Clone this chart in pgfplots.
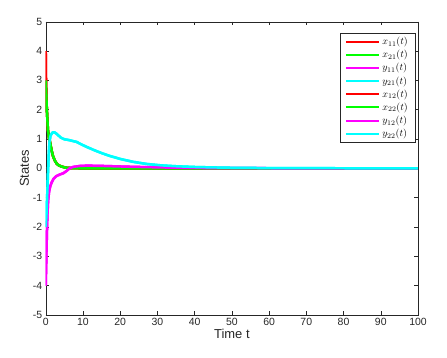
\documentclass[border=0pt]{standalone}
\usepackage{pgfplots}
\pgfplotsset{compat=1.18}
\usepackage{fontspec}
\setmainfont{Liberation Sans}
\usetikzlibrary{calc}

\definecolor{axgray}{gray}{0.15}
\definecolor{mred}{rgb}{1,0,0}
\definecolor{mgreen}{rgb}{0,1,0}
\definecolor{mmag}{rgb}{1,0,1}
\definecolor{mcyan}{rgb}{0,1,1}

% x_{i1}: red
\pgfplotstableread{
t v
0 4.0
0.08 3.0
0.3 2.0
0.6 1.3
0.9 1.0
1.1 0.93
1.6 0.6
2.0 0.4
2.5 0.25
3.0 0.15
3.5 0.1
4.5 0.05
5.5 0.02
7.0 0.005
10 0.0
100 0.0
}\xone
% x_{i2}: green
\pgfplotstableread{
t v
0 3.0
0.3 2.0
0.6 1.3
0.9 1.0
1.1 0.93
1.6 0.6
2.0 0.4
2.5 0.25
3.0 0.15
3.5 0.1
4.5 0.05
5.5 0.02
7.0 0.005
10 0.0
100 0.0
}\xtwo
% y_{i1}: magenta
\pgfplotstableread{
t v
0 -4.0
0.15 -3.2
0.3 -2.3
0.45 -1.6
0.65 -1.1
0.9 -0.8
1.2 -0.62
1.6 -0.48
2.1 -0.36
2.8 -0.27
3.8 -0.21
4.7 -0.17
5.5 -0.1
6.5 0.01
7.5 0.05
9.2 0.08
11 0.09
14 0.085
18 0.07
22 0.055
27 0.04
33 0.025
40 0.012
50 0.005
60 0.002
100 0.0
}\yone
% y_{i2}: cyan
\pgfplotstableread{
t v
0 -2.0
0.2 -1.6
0.4 -0.9
0.6 -0.2
0.8 0.45
1.0 0.9
1.3 1.12
1.8 1.22
2.3 1.23
3.0 1.17
4.0 1.05
5.0 0.99
6.0 0.97
7.0 0.94
8.3 0.9
9.5 0.82
11 0.73
13 0.62
15 0.52
17 0.43
20 0.32
23.5 0.22
27 0.15
31 0.1
35 0.07
40 0.045
45 0.03
50 0.018
60 0.007
70 0.003
100 0.0
}\ytwo

\pgfplotsset{
    st/.style={color=#1, line width=2.5pt, mark=none, line join=round},
}

\begin{document}
\begin{tikzpicture}
\begin{axis}[
    name=ax,
    scale only axis,
    width=372bp, height=293bp,
    xmin=0, xmax=100, ymin=-5, ymax=5,
    xtick={0,10,...,100}, ytick={-5,-4,...,5},
    axis line style={axgray},
    tick style={axgray, thin},
    tick align=inside,
    major tick length=3.5bp,
    every tick label/.append style={font=\fontsize{10.5}{12}\selectfont, text=axgray},
    /pgf/number format/assume math mode=true,
    xlabel={Time t}, ylabel={States},
    label style={font=\fontsize{13}{15}\selectfont, text=axgray},
    xlabel style={yshift=4bp},
    ylabel style={yshift=-3bp},
    legend style={at={(0.992,0.96)}, anchor=north east, draw=axgray,
        font=\fontsize{10}{11}\selectfont, row sep=0.2pt,
        inner xsep=5pt, inner ysep=1.5pt},
    legend cell align=left,
    legend image code/.code={\draw[#1, line width=2pt] (0cm,0cm) -- (1.18cm,0cm);},
]
\addplot[st=mred] table[x=t, y=v] {\xone};
\addlegendentry{$x_{11}(t)$}
\addplot[st=mgreen] table[x=t, y=v] {\xtwo};
\addlegendentry{$x_{21}(t)$}
\addplot[st=mmag] table[x=t, y=v] {\yone};
\addlegendentry{$y_{11}(t)$}
\addplot[st=mcyan] table[x=t, y=v] {\ytwo};
\addlegendentry{$y_{21}(t)$}
\addplot[st=mred] table[x=t, y=v] {\xone};
\addlegendentry{$x_{12}(t)$}
\addplot[st=mgreen] table[x=t, y=v] {\xtwo};
\addlegendentry{$x_{22}(t)$}
\addplot[st=mmag] table[x=t, y=v] {\yone};
\addlegendentry{$y_{12}(t)$}
\addplot[st=mcyan] table[x=t, y=v] {\ytwo};
\addlegendentry{$y_{22}(t)$}
\end{axis}
\path ($(ax.south west)+(-45.7bp,-43bp)$) rectangle ($(ax.north east)+(29bp,21.7bp)$);
\end{tikzpicture}
\end{document}
